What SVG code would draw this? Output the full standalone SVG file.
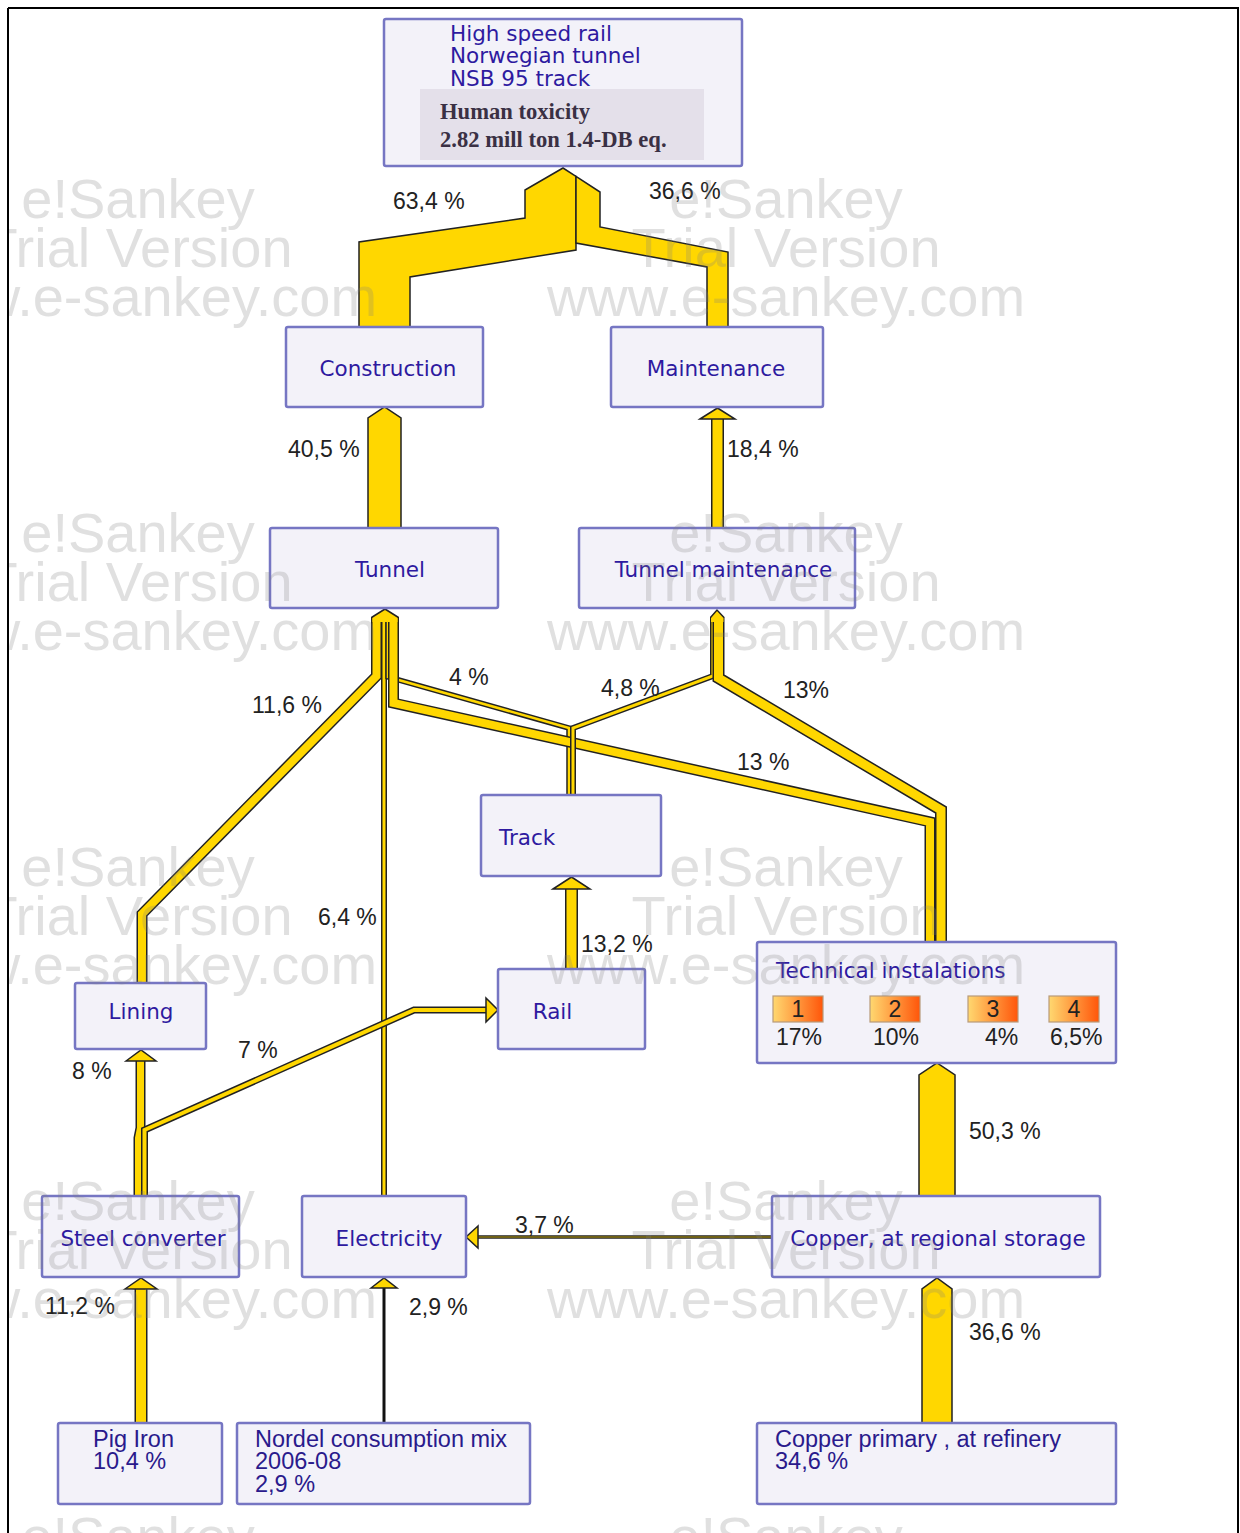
<svg xmlns="http://www.w3.org/2000/svg" width="1240" height="1533" viewBox="0 0 1240 1533">
<defs>
<style>
.nr{fill:#f3f2f9;stroke:#7676c3;stroke-width:2.5}
.nt{font-family:"DejaVu Sans",Verdana,sans-serif;font-size:21.5px;fill:#2e1aa0}
.bt{font-family:"Liberation Sans",Arial,sans-serif;font-size:23.5px;fill:#2a1a8c}
.pct{font-family:"Liberation Sans",Arial,sans-serif;font-size:23px;fill:#222}
.bo{fill:none;stroke:#222;stroke-linejoin:miter;stroke-miterlimit:8}
.bi{fill:none;stroke:#FFD700;stroke-linejoin:miter;stroke-miterlimit:8}
.ah{fill:#FFD700;stroke:#222;stroke-width:1.5;stroke-linejoin:miter}
.af{fill:#FFD700;stroke:none}
.wm{font-family:"Liberation Sans",Arial,sans-serif;font-size:56px;fill:#808080;opacity:0.24;text-anchor:middle}
.bd{stroke:#b89a7a;stroke-width:1.2}
.bn{font-family:"Liberation Sans",Arial,sans-serif;font-size:23px;fill:#222;text-anchor:middle}
</style>
<linearGradient id="og" x1="0" y1="0" x2="1" y2="0">
<stop offset="0" stop-color="#FFD870"/>
<stop offset="1" stop-color="#FF560A"/>
</linearGradient>
</defs>
<rect x="0" y="0" width="1240" height="1533" fill="#ffffff"/>
<rect x="8" y="8" width="1230" height="1545" fill="none" stroke="#000" stroke-width="2"/>

<g id="connectors">
<!-- top flows -->
<polygon class="ah" points="359,327 359,242 525,218 525,190 563,168 576,176.4 576,250 410,277 410,327"/>
<polygon class="ah" points="576,176.4 600,192 600,227 728,252 728,327 707,327 707,267 576,243"/>
<!-- Tunnel -> Construction -->
<polygon class="ah" points="368,528 368,418 384.5,407 401,418 401,528"/>
<!-- Tunnel maintenance -> Maintenance -->
<polyline class="bo" stroke-width="13" points="717.5,528 717.5,418"/>
<polyline class="bi" stroke-width="10" points="717.5,528 717.5,418"/>
<polygon class="ah" points="700,419 717.5,408 735,419"/>

<!-- Tunnel bottom flows -->
<polyline class="bo" stroke-width="11" points="376.5,617 376.5,676 142,914 142,983"/>
<polyline class="bi" stroke-width="8" points="376.5,617 376.5,676 142,914 142,983"/>
<polyline class="bo" stroke-width="6" points="384,617 384,1196"/>
<polyline class="bi" stroke-width="3" points="384,617 384,1196"/>
<polyline class="bo" stroke-width="5.5" points="388,617 388,677 569,728 569,795"/>
<polyline class="bi" stroke-width="2.5" points="388,617 388,677 569,728 569,795"/>
<polyline class="bo" stroke-width="11" points="393.5,617 393.5,703 930,822 930,942"/>
<polyline class="bi" stroke-width="8" points="393.5,617 393.5,703 930,822 930,942"/>
<polygon class="af" points="372.5,622 372.5,617 385,609 397.5,617 397.5,622"/>
<polyline fill="none" stroke="#222" stroke-width="1.5" points="371.5,617.5 385,609 398.5,617.5"/>

<!-- Tunnel maintenance bottom flows -->
<polyline class="bo" stroke-width="6" points="713,617 713,676 573,728 573,795"/>
<polyline class="bi" stroke-width="3" points="713,617 713,676 573,728 573,795"/>
<polyline class="bo" stroke-width="12" points="718.5,617 718.5,678 941,810 941,942"/>
<polyline class="bi" stroke-width="9" points="718.5,617 718.5,678 941,810 941,942"/>
<polygon class="af" points="711,622 711,617 717,610 723.5,617 723.5,622"/>
<polyline fill="none" stroke="#222" stroke-width="1.5" points="710.5,617.5 717,610 724,617.5"/>

<!-- Rail -> Track -->
<polyline class="bo" stroke-width="13" points="571.5,969 571.5,888"/>
<polyline class="bi" stroke-width="10" points="571.5,969 571.5,888"/>
<polygon class="ah" points="553,889 571.5,877 590,889"/>

<!-- Steel converter -> Lining / Rail -->
<polyline class="bo" stroke-width="10" points="138.5,1196 138.5,1138 140.5,1128 140.5,1060"/>
<polyline class="bi" stroke-width="7" points="138.5,1196 138.5,1138 140.5,1128 140.5,1060"/>
<polyline class="bo" stroke-width="7" points="144.5,1196 144.5,1130 414,1010 487,1010"/>
<polyline class="bi" stroke-width="4" points="144.5,1196 144.5,1130 414,1010 487,1010"/>
<polygon class="ah" points="126,1061 141,1050 156,1061"/>
<polygon class="ah" points="486,998 498,1010 486,1022"/>

<!-- Copper -> Technical -->
<polygon class="ah" points="919,1196 919,1075 937,1063 955,1075 955,1196"/>
<!-- Copper primary -> Copper storage -->
<polygon class="ah" points="922,1423 922,1289 937,1278 952,1289 952,1423"/>
<!-- Copper storage -> Electricity -->
<polyline class="bo" stroke-width="3.5" points="772,1237 477,1237"/>
<polyline class="bi" stroke-width="0.7" points="772,1237 477,1237"/>
<polygon class="ah" points="478,1226 466,1237 478,1248"/>
<!-- Pig Iron -> Steel converter -->
<polyline class="bo" stroke-width="13" points="141,1423 141,1288"/>
<polyline class="bi" stroke-width="10" points="141,1423 141,1288"/>
<polygon class="ah" points="125,1289 141,1278 157,1289"/>
<!-- Nordel -> Electricity -->
<polyline fill="none" stroke="#111" stroke-width="3" points="384,1423 384,1287"/>
<polygon class="ah" points="371,1288 384,1278 397,1288"/>

<!-- percentage labels -->
<text class="pct" x="393" y="209">63,4 %</text>
<text class="pct" x="649" y="199">36,6 %</text>
<text class="pct" x="288" y="457">40,5 %</text>
<text class="pct" x="727" y="457">18,4 %</text>
<text class="pct" x="252" y="713">11,6 %</text>
<text class="pct" x="449" y="685">4 %</text>
<text class="pct" x="601" y="696">4,8 %</text>
<text class="pct" x="783" y="698">13%</text>
<text class="pct" x="737" y="770">13 %</text>
<text class="pct" x="318" y="925">6,4 %</text>
<text class="pct" x="581" y="952">13,2 %</text>
<text class="pct" x="238" y="1058">7 %</text>
<text class="pct" x="72" y="1079">8 %</text>
<text class="pct" x="515" y="1233">3,7 %</text>
<text class="pct" x="969" y="1139">50,3 %</text>
<text class="pct" x="45" y="1314">11,2 %</text>
<text class="pct" x="409" y="1315">2,9 %</text>
<text class="pct" x="969" y="1340">36,6 %</text>
</g>

<g id="node-top">
<rect class="nr" x="384" y="19" width="358" height="147" rx="2"/>
<rect x="420" y="89" width="284" height="71" fill="#e4e0ea"/>
<text class="nt" x="450" y="41" fill="#3c14a0">High speed rail</text>
<text class="nt" x="450" y="63" fill="#3c14a0">Norwegian tunnel</text>
<text class="nt" x="450" y="86" fill="#3c14a0">NSB 95 track</text>
<text x="440" y="119" font-family="'Liberation Serif','Times New Roman',serif" font-weight="bold" font-size="22.6px" fill="#3a3044">Human toxicity</text>
<text x="440" y="147" font-family="'Liberation Serif','Times New Roman',serif" font-weight="bold" font-size="22.6px" fill="#3a3044">2.82 mill ton 1.4-DB eq.</text>
</g>

<g id="node-construction">
<rect class="nr" x="286" y="327" width="197" height="80" rx="2"/>
<text class="nt" x="388" y="376" text-anchor="middle">Construction</text>
</g>
<g id="node-maintenance">
<rect class="nr" x="611" y="327" width="212" height="80" rx="2"/>
<text class="nt" x="716" y="376" text-anchor="middle">Maintenance</text>
</g>
<g id="node-tunnel">
<rect class="nr" x="270" y="528" width="228" height="80" rx="2"/>
<text class="nt" x="390" y="577" text-anchor="middle">Tunnel</text>
</g>
<g id="node-tunnel-maintenance">
<rect class="nr" x="579" y="528" width="276" height="80" rx="2"/>
<text class="nt" x="723.5" y="577" text-anchor="middle">Tunnel maintenance</text>
</g>
<g id="node-track">
<rect class="nr" x="481" y="795" width="180" height="81" rx="2"/>
<text class="nt" x="499" y="845">Track</text>
</g>
<g id="node-lining">
<rect class="nr" x="75" y="983" width="131" height="66" rx="2"/>
<text class="nt" x="141" y="1019" text-anchor="middle">Lining</text>
</g>
<g id="node-rail">
<rect class="nr" x="498" y="969" width="147" height="80" rx="2"/>
<text class="nt" x="552.5" y="1019" text-anchor="middle">Rail</text>
</g>
<g id="node-technical">
<rect class="nr" x="757" y="942" width="359" height="121" rx="2"/>
<text class="nt" x="776" y="978">Technical instalations</text>
<rect class="bd" x="773" y="996" width="50" height="26" fill="url(#og)"/>
<rect class="bd" x="870" y="996" width="50" height="26" fill="url(#og)"/>
<rect class="bd" x="968" y="996" width="50" height="26" fill="url(#og)"/>
<rect class="bd" x="1049" y="996" width="50" height="26" fill="url(#og)"/>
<text class="bn" x="798" y="1017">1</text>
<text class="bn" x="895" y="1017">2</text>
<text class="bn" x="993" y="1017">3</text>
<text class="bn" x="1074" y="1017">4</text>
<text class="pct" x="776" y="1045">17%</text>
<text class="pct" x="873" y="1045">10%</text>
<text class="pct" x="985" y="1045">4%</text>
<text class="pct" x="1050" y="1045">6,5%</text>
</g>
<g id="node-steel-converter">
<rect class="nr" x="42" y="1196" width="197" height="81" rx="2"/>
<text class="nt" x="143" y="1246" text-anchor="middle">Steel converter</text>
</g>
<g id="node-electricity">
<rect class="nr" x="302" y="1196" width="164" height="81" rx="2"/>
<text class="nt" x="389" y="1246" text-anchor="middle">Electricity</text>
</g>
<g id="node-copper-storage">
<rect class="nr" x="772" y="1196" width="328" height="81" rx="2"/>
<text class="nt" x="938" y="1246" text-anchor="middle">Copper, at regional storage</text>
</g>
<g id="node-pig-iron">
<rect class="nr" x="58" y="1423" width="164" height="81" rx="2"/>
<text class="bt" x="93" y="1447">Pig Iron</text>
<text class="bt" x="93" y="1469">10,4 %</text>
</g>
<g id="node-nordel">
<rect class="nr" x="237" y="1423" width="293" height="81" rx="2"/>
<text class="bt" x="255" y="1447">Nordel consumption mix</text>
<text class="bt" x="255" y="1469">2006-08</text>
<text class="bt" x="255" y="1492">2,9 %</text>
</g>
<g id="node-copper-primary">
<rect class="nr" x="757" y="1423" width="359" height="81" rx="2"/>
<text class="bt" x="775" y="1447">Copper primary , at refinery</text>
<text class="bt" x="775" y="1469">34,6 %</text>
</g>

<g id="watermark">
<text class="wm" x="138" y="218">e!Sankey</text>
<text class="wm" x="138" y="267">Trial Version</text>
<text class="wm" x="138" y="316">www.e-sankey.com</text>
<text class="wm" x="786" y="218">e!Sankey</text>
<text class="wm" x="786" y="267">Trial Version</text>
<text class="wm" x="786" y="316">www.e-sankey.com</text>
<text class="wm" x="138" y="552">e!Sankey</text>
<text class="wm" x="138" y="601">Trial Version</text>
<text class="wm" x="138" y="650">www.e-sankey.com</text>
<text class="wm" x="786" y="552">e!Sankey</text>
<text class="wm" x="786" y="601">Trial Version</text>
<text class="wm" x="786" y="650">www.e-sankey.com</text>
<text class="wm" x="138" y="886">e!Sankey</text>
<text class="wm" x="138" y="935">Trial Version</text>
<text class="wm" x="138" y="984">www.e-sankey.com</text>
<text class="wm" x="786" y="886">e!Sankey</text>
<text class="wm" x="786" y="935">Trial Version</text>
<text class="wm" x="786" y="984">www.e-sankey.com</text>
<text class="wm" x="138" y="1220">e!Sankey</text>
<text class="wm" x="138" y="1269">Trial Version</text>
<text class="wm" x="138" y="1318">www.e-sankey.com</text>
<text class="wm" x="786" y="1220">e!Sankey</text>
<text class="wm" x="786" y="1269">Trial Version</text>
<text class="wm" x="786" y="1318">www.e-sankey.com</text>
<text class="wm" x="138" y="1556">e!Sankey</text>
<text class="wm" x="786" y="1556">e!Sankey</text>
</g>
<rect x="0" y="0" width="8" height="1533" fill="#fff"/>
<line x1="8" y1="8" x2="8" y2="1533" stroke="#000" stroke-width="2"/>
</svg>
